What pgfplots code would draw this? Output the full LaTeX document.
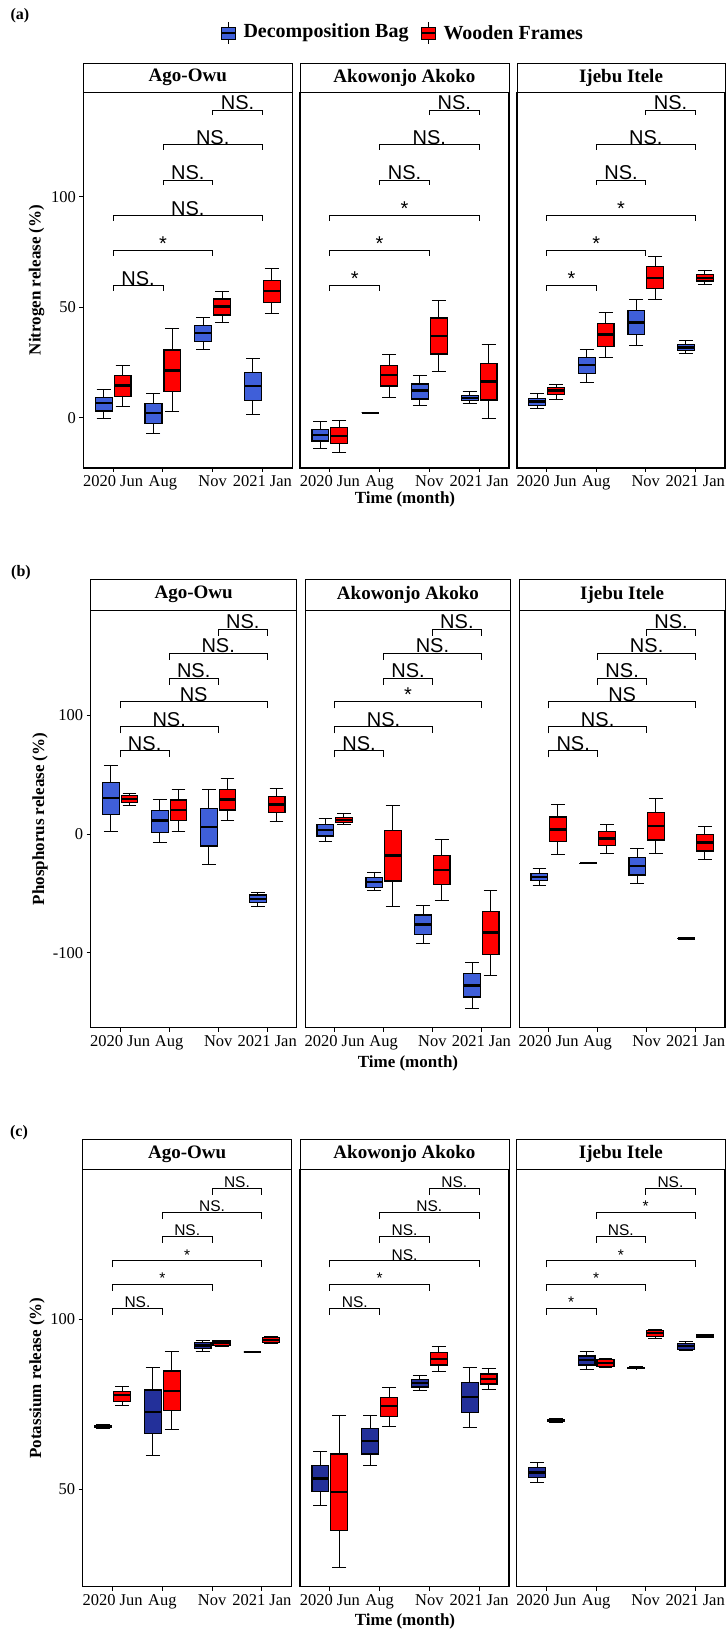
\documentclass[border=0pt]{standalone}
\usepackage{fontspec}
\setmainfont{Liberation Serif}
\newfontfamily\sansf{Liberation Sans}
\usepackage{pgfplots}
\pgfplotsset{compat=1.18}
\usepgfplotslibrary{statistics}
\usetikzlibrary{calc}

\definecolor{bagA}{HTML}{3F5FD9}
\definecolor{bagC}{HTML}{23309A}
\definecolor{woodR}{HTML}{FF0000}

\def\bcol{bagA}
% #1 colour, #2 position, #3 lw, #4 lq, #5 med, #6 uq, #7 uw
\newcommand{\BX}[7]{\addplot[draw=black, fill=#1, line width=1.2pt,
  boxplot/draw direction=y,
  boxplot/every median/.style={line width=2.4pt},
  boxplot/every whisker/.style={line width=1pt},
  boxplot prepared={draw position=#2, lower whisker=#3, lower quartile=#4,
  median=#5, upper quartile=#6, upper whisker=#7, box extend=0.34, whisker extend=0.28}] coordinates {};}
\newcommand{\B}[6]{\BX{\bcol}{#1}{#2}{#3}{#4}{#5}{#6}}
\newcommand{\R}[6]{\BX{woodR}{#1}{#2}{#3}{#4}{#5}{#6}}

\tikzset{brk/.style={black, line width=0.8pt},
  sigA/.style={font=\sansf\fontsize{20}{22}\selectfont, anchor=base, inner sep=0pt, yshift=0.5pt},
  sigC/.style={font=\sansf\fontsize{15.5}{17}\selectfont, anchor=base, inner sep=0pt, yshift=0.5pt}}
\def\sigsty{sigA}
\def\tip{2.3}
% #1 x1, #2 x2, #3 level, #4 label
\newcommand{\BR}[4]{%
  \pgfmathsetmacro{\tb}{#3-\tip}%
  \pgfmathsetmacro{\xm}{(#1+#2)/2}%
  \edef\tmp{\noexpand\addplot[brk] coordinates {(#1,\tb) (#1,#3) (#2,#3) (#2,\tb)};%
  \noexpand\node[\sigsty] at (axis cs:\xm,#3) {#4};}%
  \tmp}

\pgfplotsset{panel/.style={scale only axis, anchor=south west,
  xmin=0.4, xmax=4.6, xtick={1,2,3,4}, xticklabels={2020 Jun,Aug,Nov,2021 Jan},
  tick align=outside, major tick length=4pt,
  axis line style={line width=1.1pt, black}, tick style={black, line width=0.9pt},
  ticklabel style={font=\fontsize{16.5}{18}\selectfont},
  /pgf/number format/assume math mode=true,
  clip=false, xtick pos=bottom, ytick pos=left}}

\newcommand{\strip}[5]{%
  \draw[line width=0.9pt, fill=white] (#1pt,#3pt) rectangle (#2pt,#4pt);
  \node[font=\fontsize{19}{21}\selectfont\bfseries] at ($(#1pt,#3pt)!0.5!(#2pt,#4pt)$) {#5};}

\begin{document}
\begin{tikzpicture}
\useasboundingbox (0pt,0pt) rectangle (726pt,1631pt);

% ---------- legend and row labels ----------
\node[font=\bfseries\fontsize{16}{18}\selectfont] at (20pt,1615pt) {(a)};
\node[font=\bfseries\fontsize{16}{18}\selectfont] at (21pt,1058pt) {(b)};
\node[font=\bfseries\fontsize{16}{18}\selectfont] at (19pt,498pt) {(c)};

\draw[line width=0.9pt] (228pt,1587pt) -- (228pt,1609pt);
\draw[line width=0.9pt, fill=bagA] (221pt,1592pt) rectangle (235pt,1604pt);
\draw[line width=1.6pt] (221pt,1598pt) -- (235pt,1598pt);
\node[anchor=west, font=\bfseries\fontsize{20}{22}\selectfont] at (240pt,1598pt) {Decomposition Bag};
\draw[line width=0.9pt] (428pt,1587pt) -- (428pt,1609pt);
\draw[line width=0.9pt, fill=woodR] (421pt,1592pt) rectangle (435pt,1604pt);
\draw[line width=1.6pt] (421pt,1598pt) -- (435pt,1598pt);
\node[anchor=west, font=\bfseries\fontsize{20}{22}\selectfont] at (440pt,1598pt) {Wooden Frames};

% ================= ROW (a) Nitrogen =================
\def\bcol{bagA}\def\sigsty{sigA}\def\tip{2.3}
\begin{axis}[panel, at={(83.3pt,1163pt)}, width=209pt, height=375.7pt,
  ymin=-22.8, ymax=147.2, ytick={0,50,100}]
\B{0.81}{-0.5}{3.0}{6.5}{9.2}{12.5}
\R{1.19}{5.0}{9.5}{14.5}{18.9}{23.5}
\B{1.81}{-7.1}{-2.6}{2.0}{6.2}{10.7}
\R{2.19}{2.6}{11.9}{21.3}{30.6}{40.3}
\B{2.81}{30.8}{34.4}{38.3}{41.6}{45.5}
\R{3.19}{43.0}{46.4}{50.2}{53.7}{57.2}
\B{3.81}{1.4}{7.7}{14.3}{20.4}{26.8}
\R{4.19}{46.9}{52.0}{57.2}{62.0}{67.3}
\BR{1}{2}{59.7}{NS.}
\BR{1}{3}{75.5}{*}
\BR{1}{4}{91.4}{NS.}
\BR{2}{3}{107.5}{NS.}
\BR{2}{4}{123.4}{NS.}
\BR{3}{4}{139.2}{NS.}
\end{axis}
\begin{axis}[panel, at={(300pt,1163pt)}, width=209pt, height=375.7pt,
  ymin=-22.8, ymax=147.2, ytick=\empty]
\B{0.81}{-13.9}{-10.6}{-7.8}{-5.3}{-1.8}
\R{1.19}{-15.7}{-11.9}{-8.3}{-4.5}{-1.1}
\B{1.81}{2.1}{2.2}{2.2}{2.2}{2.3}
\R{2.19}{9.3}{14.3}{19.2}{23.5}{28.4}
\B{2.81}{5.3}{8.4}{12.2}{15.2}{18.9}
\R{3.19}{20.7}{28.8}{36.9}{45.1}{53.2}
\B{3.81}{6.5}{7.7}{9.0}{10.1}{11.6}
\R{4.19}{-0.5}{8.0}{16.3}{24.6}{33.2}
\BR{1}{2}{59.7}{*}
\BR{1}{3}{75.5}{*}
\BR{1}{4}{91.4}{*}
\BR{2}{3}{107.5}{NS.}
\BR{2}{4}{123.4}{NS.}
\BR{3}{4}{139.2}{NS.}
\end{axis}
\begin{axis}[panel, at={(517pt,1163pt)}, width=208pt, height=375.7pt,
  ymin=-22.8, ymax=147.2, ytick=\empty]
\B{0.81}{3.9}{5.6}{7.2}{8.7}{10.9}
\R{1.19}{8.3}{10.4}{12.2}{13.7}{15.2}
\B{1.81}{16.0}{19.8}{23.7}{27.3}{30.8}
\R{2.19}{27.1}{32.3}{37.6}{42.5}{47.7}
\B{2.81}{32.6}{37.7}{43.1}{48.4}{53.5}
\R{3.19}{53.5}{58.4}{63.3}{68.3}{73.1}
\B{3.81}{29.0}{30.3}{31.8}{33.0}{34.7}
\R{4.19}{60.2}{61.8}{63.3}{64.8}{66.4}
\BR{1}{2}{59.7}{*}
\BR{1}{3}{75.5}{*}
\BR{1}{4}{91.4}{*}
\BR{2}{3}{107.5}{NS.}
\BR{2}{4}{123.4}{NS.}
\BR{3}{4}{139.2}{NS.}
\end{axis}
\strip{83.3}{292.3}{1538.7}{1568}{Ago-Owu}
\strip{300}{509}{1538.7}{1568}{Akowonjo Akoko}
\strip{517}{725}{1538.7}{1568}{Ijebu Itele}
\node[rotate=90, font=\bfseries\fontsize{17}{19}\selectfont] at (36.7pt,1351pt) {Nitrogen release (\%)};
\node[font=\bfseries\fontsize{17}{19}\selectfont] at (405pt,1132pt) {Time (month)};

% ================= ROW (b) Phosphorus =================
\def\bcol{bagA}\def\sigsty{sigA}\def\tip{5.6}
\begin{axis}[panel, at={(90.7pt,603.3pt)}, width=206pt, height=417.7pt,
  ymin=-163.2, ymax=188.7, ytick={-100,0,100}]
\B{0.81}{2.5}{16.6}{30.1}{43.5}{57.6}
\R{1.19}{23.9}{26.4}{29.5}{32.6}{34.3}
\B{1.81}{-7.3}{1.4}{11.2}{19.7}{29.2}
\R{2.19}{2.5}{11.2}{20.2}{28.7}{37.1}
\B{2.81}{-26.1}{-10.1}{5.9}{21.6}{37.6}
\R{3.19}{11.2}{20.2}{29.2}{37.6}{46.9}
\B{3.81}{-61.2}{-57.9}{-54.8}{-51.4}{-49.1}
\R{4.19}{10.7}{18.0}{25.0}{31.5}{38.5}
\BR{1}{2}{70.2}{NS.}
\BR{1}{3}{90.4}{NS.}
\BR{1}{4}{111.5}{NS}
\BR{2}{3}{131.2}{NS.}
\BR{2}{4}{152.3}{NS.}
\BR{3}{4}{172.5}{NS.}
\end{axis}
\begin{axis}[panel, at={(305.3pt,603.3pt)}, width=205.4pt, height=417.7pt,
  ymin=-163.2, ymax=188.7, ytick=\empty]
\B{0.81}{-6.5}{-1.7}{3.4}{8.1}{13.2}
\R{1.19}{7.6}{9.6}{11.8}{14.0}{17.4}
\B{1.81}{-48.0}{-44.9}{-40.7}{-36.8}{-32.6}
\R{2.19}{-60.7}{-39.6}{-18.3}{2.8}{23.6}
\B{2.81}{-92.1}{-84.5}{-76.1}{-68.2}{-60.1}
\R{3.19}{-55.9}{-42.4}{-30.3}{-18.0}{-4.5}
\B{3.81}{-147.4}{-137.3}{-127.5}{-117.7}{-108.1}
\R{4.19}{-119.1}{-101.7}{-83.1}{-65.1}{-47.7}
\BR{1}{2}{70.2}{NS.}
\BR{1}{3}{90.4}{NS.}
\BR{1}{4}{111.5}{*}
\BR{2}{3}{131.2}{NS.}
\BR{2}{4}{152.3}{NS.}
\BR{3}{4}{172.5}{NS.}
\end{axis}
\begin{axis}[panel, at={(519.3pt,603.3pt)}, width=205.7pt, height=417.7pt,
  ymin=-163.2, ymax=188.7, ytick=\empty]
\B{0.81}{-43.0}{-39.3}{-36.2}{-33.4}{-29.5}
\R{1.19}{-17.1}{-6.5}{3.7}{14.3}{25.0}
\B{1.81}{-25.0}{-24.8}{-24.7}{-24.6}{-24.4}
\R{2.19}{-16.3}{-9.8}{-3.9}{2.0}{7.6}
\B{2.81}{-42.1}{-34.5}{-27.0}{-20.0}{-12.6}
\R{3.19}{-16.6}{-5.1}{6.7}{18.3}{30.3}
\B{3.81}{-88.1}{-88.0}{-87.9}{-87.8}{-87.7}
\R{4.19}{-21.1}{-14.3}{-7.3}{-0.6}{6.2}
\BR{1}{2}{70.2}{NS.}
\BR{1}{3}{90.4}{NS.}
\BR{1}{4}{111.5}{NS}
\BR{2}{3}{131.2}{NS.}
\BR{2}{4}{152.3}{NS.}
\BR{3}{4}{172.5}{NS.}
\end{axis}
\strip{90.7}{296.7}{1021}{1052}{Ago-Owu}
\strip{305.3}{510.7}{1021}{1052}{Akowonjo Akoko}
\strip{519.3}{725}{1021}{1052}{Ijebu Itele}
\node[rotate=90, font=\bfseries\fontsize{17}{19}\selectfont] at (40pt,812pt) {Phosphorus release (\%)};
\node[font=\bfseries\fontsize{17}{19}\selectfont] at (408pt,568pt) {Time (month)};

% ================= ROW (c) Potassium =================
\def\bcol{bagC}\def\sigsty{sigC}\def\tip{1.9}
\begin{axis}[panel, at={(82.7pt,44.3pt)}, width=209pt, height=417.4pt,
  ymin=21.4, ymax=144.1, ytick={50,100}]
\B{0.81}{67.9}{68.1}{68.5}{68.9}{69.1}
\R{1.19}{74.6}{75.9}{77.7}{78.8}{80.3}
\B{1.81}{60.1}{66.5}{72.8}{79.2}{85.7}
\R{2.19}{67.7}{73.3}{79.0}{84.8}{90.6}
\B{2.81}{90.6}{91.4}{92.3}{93.1}{93.9}
\R{3.19}{92.1}{92.3}{93.0}{93.6}{93.8}
\B{3.81}{90.3}{90.4}{90.4}{90.4}{90.5}
\R{4.19}{92.8}{93.1}{93.9}{94.7}{95.0}
\BR{1}{2}{103.3}{NS.}
\BR{1}{3}{110.3}{*}
\BR{1}{4}{117.2}{*}
\BR{2}{3}{124.4}{NS.}
\BR{2}{4}{131.4}{NS.}
\BR{3}{4}{138.5}{NS.}
\end{axis}
\begin{axis}[panel, at={(300pt,44.3pt)}, width=209pt, height=417.4pt,
  ymin=21.4, ymax=144.1, ytick=\empty]
\B{0.81}{45.2}{49.3}{53.2}{57.1}{61.1}
\R{1.19}{26.9}{38.0}{49.3}{60.4}{71.6}
\B{1.81}{56.9}{60.4}{64.2}{67.9}{71.6}
\R{2.19}{68.6}{71.5}{74.5}{77.1}{80.0}
\B{2.81}{79.0}{80.1}{81.3}{82.4}{83.5}
\R{3.19}{84.8}{86.6}{88.4}{90.2}{92.1}
\B{3.81}{68.1}{72.6}{77.1}{81.4}{85.9}
\R{4.19}{79.3}{81.0}{82.5}{83.9}{85.4}
\BR{1}{2}{103.3}{NS.}
\BR{1}{3}{110.3}{*}
\BR{1}{4}{117.2}{NS.}
\BR{2}{3}{124.4}{NS.}
\BR{2}{4}{131.4}{NS.}
\BR{3}{4}{138.5}{NS.}
\end{axis}
\begin{axis}[panel, at={(516.7pt,44.3pt)}, width=208.3pt, height=417.4pt,
  ymin=21.4, ymax=144.1, ytick=\empty]
\B{0.81}{52.1}{53.5}{55.0}{56.4}{57.8}
\R{1.19}{69.6}{69.9}{70.2}{70.5}{70.8}
\B{1.81}{85.3}{86.6}{88.0}{89.2}{90.6}
\R{2.19}{85.8}{86.2}{87.2}{88.1}{88.5}
\B{2.81}{85.4}{85.5}{85.7}{85.9}{86.0}
\R{3.19}{94.5}{94.9}{95.9}{96.8}{97.1}
\B{3.81}{90.7}{91.2}{92.1}{93.0}{93.5}
\R{4.19}{94.6}{94.8}{95.1}{95.4}{95.6}
\BR{1}{2}{103.3}{*}
\BR{1}{3}{110.3}{*}
\BR{1}{4}{117.2}{*}
\BR{2}{3}{124.4}{NS.}
\BR{2}{4}{131.4}{*}
\BR{3}{4}{138.5}{NS.}
\end{axis}
\strip{82.7}{291.7}{461.7}{492}{Ago-Owu}
\strip{300}{509}{461.7}{492}{Akowonjo Akoko}
\strip{516.7}{725}{461.7}{492}{Ijebu Itele}
\node[rotate=90, font=\bfseries\fontsize{17}{19}\selectfont] at (37pt,253pt) {Potassium release (\%)};
\node[font=\bfseries\fontsize{17}{19}\selectfont] at (405pt,10pt) {Time (month)};
\end{tikzpicture}
\end{document}
